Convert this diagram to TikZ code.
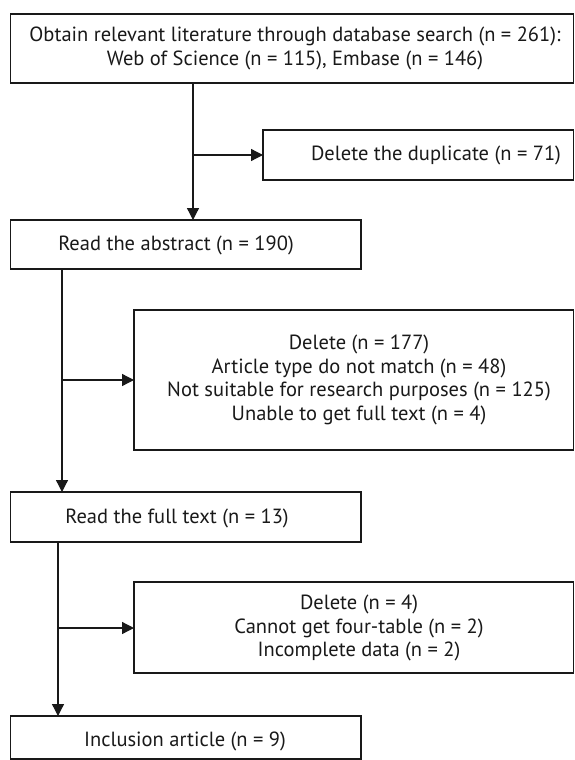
\documentclass[tikz,border=0pt]{standalone}
\usepackage{fontspec}
\setmainfont{PT Sans}
\usetikzlibrary{arrows.meta}
\begin{document}
\begin{tikzpicture}[x=1pt,y=-1pt,
  frame/.style={draw=black!90, line width=1.3pt, inner sep=0pt, outer sep=0pt},
  txt/.style={align=center, inner sep=0pt, text=black!90, font=\fontsize{20.5}{23.5}\selectfont},
  link/.style={draw=black!90, line width=1.3pt},
  arr/.style={link, -{Triangle[length=12pt,width=12pt]}}]
\useasboundingbox (0,0) rectangle (575,760);
% boxes
\node[frame, minimum width=563pt, minimum height=69pt] (b1) at (292,48.5) {};
\node[txt] (t1) at (295,48.5) {Obtain relevant literature through database search (n = 261):\\Web of Science (n = 115), Embase (n = 146)};
\node[frame, minimum width=310.5pt, minimum height=50pt] (dup) at (418.25,155) {};
\node[txt] (tdup) at (436,155) {Delete the duplicate (n = 71)};
\node[frame, minimum width=350.5pt, minimum height=49pt] (b2) at (185.75,244.5) {};
\node[txt] (t2) at (176,245) {Read the abstract (n = 190)};
\node[frame, minimum width=439.5pt, minimum height=140pt] (d1) at (353.75,380) {};
\node[txt] (td1) at (359,380) {Delete (n = 177)\\Article type do not match (n = 48)\\Not suitable for research purposes (n = 125)\\Unable to get full text (n = 4)};
\node[frame, minimum width=350.5pt, minimum height=50pt] (b3) at (185.75,517) {};
\node[txt] (t3) at (177,518) {Read the full text (n = 13)};
\node[frame, minimum width=439.5pt, minimum height=91pt] (d2) at (353.75,627.5) {};
\node[txt] (td2) at (359,628) {Delete (n = 4)\\Cannot get four-table (n = 2)\\Incomplete data (n = 2)};
\node[frame, minimum width=350.5pt, minimum height=43pt] (b4) at (185.75,737.5) {};
\node[txt] (t4) at (185,741) {Inclusion article (n = 9)};
% junctions
\coordinate (j1) at (193,155);
\coordinate (j2) at (62,380);
\coordinate (j3) at (58,628);
% connectors
\draw[arr] (b1.south -| j1) -- (b2.north -| j1);
\draw[arr] (j1) -- (dup.west |- j1);
\draw[arr] (b2.south -| j2) -- (b3.north -| j2);
\draw[arr] (j2) -- (d1.west |- j2);
\draw[arr] (b3.south -| j3) -- (b4.north -| j3);
\draw[arr] (j3) -- (d2.west |- j3);
\end{tikzpicture}
\end{document}
